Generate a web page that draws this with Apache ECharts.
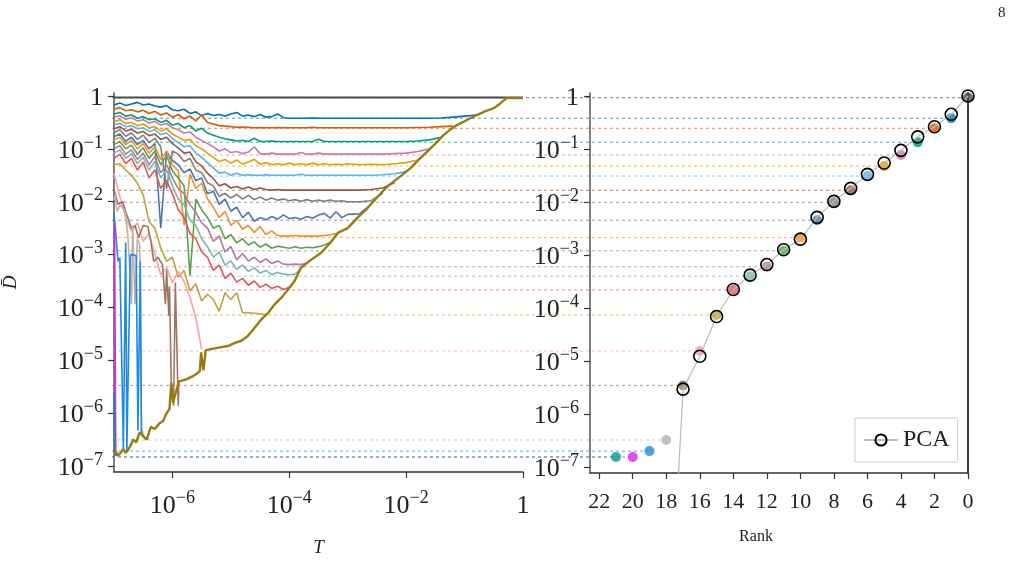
<!DOCTYPE html>
<html>
<head>
<meta charset="utf-8">
<script src="https://cdn.jsdelivr.net/npm/echarts@6/dist/echarts.min.js"></script>
<style>
  html, body { margin: 0; background: #fff; }
  #chart { width: 1015px; height: 562px; }
</style>
</head>
<body>
<div id="chart"></div>
<script>
// all values are log10; left panel x = log10 T, y = log10 D
const logT = [-7.0, -6.9, -6.8, -6.7, -6.6, -6.5, -6.4, -6.3, -6.2, -6.1,
  -6.0, -5.9, -5.8, -5.7, -5.6, -5.5, -5.4, -5.3, -5.2, -5.1,
  -5.0, -4.9, -4.8, -4.7, -4.6, -4.5, -4.4, -4.3, -4.2, -4.1,
  -4.0, -3.9, -3.8, -3.7, -3.6, -3.5, -3.4, -3.3, -3.2, -3.1,
  -3.0, -2.8, -2.6, -2.4, -2.2, -2.0, -1.8, -1.6, -1.4, -1.2,
  -1.0, -0.8, -0.6, -0.4, -0.2, 0];

// curves sampled on logT (they stop where they join the lower envelope)
const r00 = [-0.03, -0.03, -0.03, -0.03, -0.03, -0.03, -0.03, -0.03, -0.03, -0.03,
  -0.03, -0.03, -0.03, -0.03, -0.03, -0.03, -0.03, -0.03, -0.03, -0.03,
  -0.03, -0.03, -0.03, -0.03, -0.03, -0.03, -0.03, -0.03, -0.03, -0.03,
  -0.03, -0.03, -0.03, -0.03, -0.03, -0.03, -0.03, -0.03, -0.03, -0.03,
  -0.03, -0.03, -0.03, -0.03, -0.03, -0.03, -0.03, -0.03, -0.03, -0.03,
  -0.03, -0.03, -0.03, -0.03, -0.03, -0.03];
const r01 = [-0.17, -0.13, -0.18, -0.15, -0.12, -0.17, -0.15, -0.19, -0.21, -0.18,
  -0.26, -0.28, -0.25, -0.33, -0.30, -0.37, -0.33, -0.37, -0.35, -0.38,
  -0.34, -0.31, -0.38, -0.36, -0.39, -0.35, -0.40, -0.39, -0.34, -0.41,
  -0.42, -0.42, -0.42, -0.42, -0.415, -0.42, -0.42, -0.42, -0.42, -0.42,
  -0.42, -0.42, -0.42, -0.42, -0.42, -0.42, -0.42, -0.42, -0.415, -0.40,
  -0.38, -0.36];
const r02 = [-0.25, -0.22, -0.28, -0.26, -0.30, -0.27, -0.33, -0.29, -0.36, -0.32,
  -0.40, -0.35, -0.43, -0.38, -0.47, -0.36, -0.50, -0.53, -0.56, -0.57,
  -0.58, -0.59, -0.585, -0.59, -0.60, -0.595, -0.60, -0.60, -0.595, -0.60,
  -0.60, -0.60, -0.60, -0.60, -0.59, -0.60, -0.60, -0.60, -0.60, -0.60,
  -0.60, -0.60, -0.60, -0.60, -0.60, -0.60, -0.595, -0.59, -0.58, -0.57];
const r03 = [-0.34, -0.31, -0.38, -0.36, -0.42, -0.39, -0.45, -0.43, -0.50, -0.46,
  -0.55, -0.52, -0.60, -0.56, -0.66, -0.61, -0.70, -0.74, -0.78, -0.81,
  -0.83, -0.85, -0.84, -0.86, -0.80, -0.86, -0.86, -0.85, -0.86, -0.86,
  -0.86, -0.86, -0.86, -0.86, -0.86, -0.82, -0.86, -0.86, -0.86, -0.86,
  -0.86, -0.86, -0.86, -0.86, -0.86, -0.86, -0.85, -0.83, -0.78];
const r04 = [-0.40, -0.37, -0.44, -0.41, -0.47, -0.45, -0.51, -0.48, -0.55, -0.52,
  -0.60, -0.64, -0.70, -0.68, -0.78, -0.84, -0.90, -0.96, -1.04, -1.00,
  -1.07, -1.05, -1.09, -1.06, -0.96, -1.09, -1.10, -1.08, -1.10, -1.10,
  -1.10, -1.10, -1.07, -1.10, -1.10, -1.08, -1.10, -1.10, -1.10, -1.10,
  -1.10, -1.10, -1.10, -1.10, -1.09, -1.08, -1.05, -1.00];
const r05 = [-0.48, -0.45, -0.52, -0.50, -0.56, -0.53, -0.60, -0.58, -0.66, -0.62,
  -0.72, -0.78, -0.84, -0.82, -0.94, -1.00, -1.08, -1.16, -1.24, -1.20,
  -1.27, -1.21, -1.29, -1.25, -1.20, -1.29, -1.26, -1.30, -1.28, -1.30,
  -1.27, -1.30, -1.28, -1.30, -1.27, -1.30, -1.28, -1.30, -1.29, -1.30,
  -1.28, -1.30, -1.29, -1.30, -1.28, -1.26, -1.21];
const r06 = [-0.55, -0.52, -0.58, -0.56, -0.62, -0.60, -0.67, -0.64, -0.73, -0.70,
  -0.80, -0.88, -0.96, -0.94, -1.08, -1.16, -1.26, -1.36, -1.46, -1.44,
  -1.50, -1.46, -1.50, -1.49, -1.50, -1.50, -1.49, -1.50, -1.50, -1.50,
  -1.50, -1.50, -1.48, -1.50, -1.50, -1.50, -1.50, -1.50, -1.50, -1.50,
  -1.50, -1.50, -1.50, -1.49, -1.47, -1.43];
const r07 = [-0.62, -0.58, -0.66, -0.63, -0.70, -0.67, -0.75, -0.72, -0.82, -0.78,
  -0.90, -0.98, -1.08, -1.06, -1.24, -1.32, -1.46, -1.56, -1.70, -1.66,
  -1.74, -1.71, -1.76, -1.72, -1.77, -1.74, -1.77, -1.78, -1.77, -1.78,
  -1.78, -1.78, -1.78, -1.78, -1.78, -1.78, -1.78, -1.78, -1.78, -1.78,
  -1.78, -1.78, -1.77, -1.74, -1.64];
const r08 = [-0.69, -0.64, -0.76, -0.70, -0.82, -0.74, -0.88, -0.80, -0.96, -1.75,
  -1.04, -1.10, -1.24, -1.18, -1.40, -1.45, -1.64, -1.70, -1.90, -1.84,
  -1.93, -1.86, -1.95, -1.88, -1.96, -1.91, -1.97, -1.93, -1.97, -1.95,
  -1.98, -1.96, -1.99, -1.96, -1.99, -1.97, -1.99, -1.97, -1.99, -1.98,
  -2.00, -2.00, -1.98, -1.84];
const r09 = [-0.77, -0.72, -0.86, -0.78, -0.92, -0.84, -1.00, -0.90, -2.50, -1.05,
  -1.22, -1.30, -1.45, -1.38, -1.60, -1.55, -1.85, -1.80, -2.05, -1.95,
  -2.18, -2.10, -2.30, -2.20, -2.37, -2.30, -2.34, -2.28, -2.33, -2.25,
  -2.32, -2.30, -2.33, -2.28, -2.31, -2.25, -2.22, -2.31, -2.19, -2.30,
  -2.24, -2.23, -2.05];
const r10 = [-0.83, -0.78, -0.92, -0.84, -1.00, -0.90, -1.08, -0.96, -1.20, -1.04,
  -1.30, -1.42, -2.45, -1.48, -1.75, -1.65, -1.95, -2.10, -2.30, -2.18,
  -2.45, -2.35, -2.52, -2.45, -2.58, -2.47, -2.62, -2.55, -2.64, -2.65,
  -2.65, -2.64, -2.65, -2.65, -2.65, -2.65, -2.64, -2.63, -2.60];
const r11 = [-0.92, -0.86, -1.00, -0.93, -1.10, -0.98, -1.18, -1.04, -1.30, -1.12,
  -1.42, -1.55, -1.70, -3.40, -1.95, -2.15, -2.30, -2.50, -2.45, -2.70,
  -2.62, -2.78, -2.70, -2.82, -2.76, -2.86, -2.80, -2.88, -2.84, -2.86,
  -2.88, -2.85, -2.88, -2.86, -2.87, -2.85, -2.82, -2.77];
const r12 = [-1.00, -0.94, -1.10, -1.02, -1.20, -1.08, -1.30, -1.15, -1.45, -1.30,
  -1.55, -1.75, -1.85, -2.05, -2.20, -2.40, -2.50, -2.75, -2.65, -2.95,
  -2.85, -3.10, -2.98, -3.12, -3.05, -3.15, -3.08, -3.17, -3.12, -3.18,
  -3.19, -3.18, -3.19, -3.16];
const r13 = [-1.08, -1.02, -1.18, -1.09, -1.28, -1.16, -1.40, -1.24, -1.55, -1.40,
  -1.70, -1.95, -2.05, -2.35, -2.45, -2.70, -2.85, -3.05, -2.95, -3.20,
  -3.12, -3.28, -3.20, -3.32, -3.25, -3.35, -3.30, -3.38, -3.34, -3.37,
  -3.38, -3.37, -3.27];
const r14 = [-1.18, -1.10, -1.28, -1.18, -1.40, -1.25, -1.55, -1.40, -1.75, -1.60,
  -1.85, -2.15, -2.30, -2.60, -2.70, -2.95, -3.05, -3.30, -3.20, -3.45,
  -3.35, -3.52, -3.45, -3.58, -3.50, -3.62, -3.56, -3.64, -3.60, -3.66,
  -3.62];
const r15 = [-1.30, -1.28, -1.40, -1.50, -1.65, -1.87, -2.38, -2.50, -2.87, -3.13,
  -3.05, -3.43, -3.30, -3.69, -3.55, -3.88, -3.75, -3.85, -4.07, -3.72,
  -3.85, -3.72, -4.10, -4.10, -4.11, -4.12, -4.14];
const r16 = [-1.46, -1.90, -2.30, -2.55, -2.40, -2.75, -2.60, -3.00, -3.38, -3.25,
  -3.53, -3.32, -3.51, -3.81, -4.19, -4.79];

// spiky curves, [log10 T, log10 D]
const r17 = [[-7.0, -1.77], [-6.93, -2.05], [-6.85, -2.0], [-6.8, -2.19], [-6.7, -2.5],
  [-6.64, -2.45], [-6.58, -2.68], [-6.5, -2.45], [-6.42, -2.47], [-6.37, -2.75],
  [-6.32, -3.13], [-6.25, -3.05], [-6.17, -3.19], [-6.12, -3.94], [-6.1, -3.3],
  [-6.06, -4.16], [-6.05, -3.6], [-6.02, -5.42], [-5.98, -5.86], [-5.95, -3.53],
  [-5.9, -5.86], [-5.89, -5.39]];
const r18 = [[-7.0, -1.96], [-6.98, -1.87], [-6.95, -2.18], [-6.89, -2.06], [-6.81, -2.19],
  [-6.76, -2.68], [-6.7, -3.94], [-6.68, -2.45], [-6.64, -3.94], [-6.6, -2.7],
  [-6.56, -2.81], [-6.53, -6.3], [-6.48, -6.46]];
const r19 = [[-7.0, -2.2], [-6.98, -2.22], [-6.93, -3.13], [-6.9, -3.06], [-6.84, -6.68],
  [-6.8, -2.77], [-6.78, -6.71], [-6.72, -3.0], [-6.62, -3.02], [-6.59, -6.33],
  [-6.55, -3.13], [-6.53, -6.4], [-6.48, -6.45]];
const r20 = [[-7.0, -2.45], [-6.99, -2.52], [-6.97, -6.8], [-6.92, -6.8]];
const r21 = [[-7.0, -5.6], [-6.99, -6.72], [-6.95, -6.8]];

const envelope = [[-7.0, -6.68], [-6.97, -6.68], [-6.93, -6.8], [-6.88, -6.74], [-6.84, -6.68],
  [-6.8, -6.75], [-6.76, -6.7], [-6.72, -6.62], [-6.67, -6.5], [-6.62, -6.55],
  [-6.56, -6.36], [-6.5, -6.44], [-6.44, -6.5], [-6.37, -6.26], [-6.3, -6.3],
  [-6.22, -6.19], [-6.16, -6.15], [-6.11, -6.02], [-6.05, -5.92], [-6.02, -5.42],
  [-5.99, -5.8], [-5.96, -5.83], [-5.89, -5.4], [-5.76, -5.36], [-5.65, -5.3],
  [-5.59, -5.26], [-5.53, -5.2], [-5.51, -4.85], [-5.47, -5.19], [-5.43, -4.81],
  [-5.3, -4.78], [-5.16, -4.75], [-5.05, -4.73], [-4.93, -4.67], [-4.82, -4.63],
  [-4.71, -4.54], [-4.59, -4.38], [-4.48, -4.23], [-4.36, -4.1], [-4.25, -3.94],
  [-4.14, -3.82], [-4.02, -3.66], [-3.91, -3.5], [-3.8, -3.25], [-3.63, -3.1],
  [-3.46, -2.97], [-3.3, -2.78], [-3.17, -2.59], [-3.0, -2.5], [-2.83, -2.3],
  [-2.66, -2.12], [-2.5, -1.92], [-2.32, -1.71], [-2.1, -1.52], [-1.92, -1.36],
  [-1.78, -1.2], [-1.64, -1.05], [-1.5, -0.9], [-1.36, -0.74], [-1.25, -0.64],
  [-1.13, -0.55], [-0.95, -0.45], [-0.79, -0.36], [-0.65, -0.29], [-0.5, -0.23],
  [-0.4, -0.15], [-0.28, -0.04], [0, -0.04]];

// right panel: final level of each curve by rank, and PCA
const ranks = [0, 1, 2, 3, 4, 5, 6, 7, 8, 9, 10, 11, 12, 13, 14, 15, 16, 17, 18, 19, 20, 21];
const finalLevel = [-0.03, -0.42, -0.61, -0.874, -1.113, -1.32, -1.51, -1.78, -2.006, -2.345,
  -2.67, -2.92, -3.22, -3.40, -3.66, -4.13, -4.81, -5.46, -6.49, -6.70, -6.81, -6.81];
const pcaRank = [0, 1, 2, 3, 4, 5, 6, 7, 8, 9, 10, 11, 12, 13, 14, 15, 16, 17, 18];
const pcaLevel = [0, -0.345, -0.58, -0.77, -1.025, -1.264, -1.478, -1.742, -1.987, -2.29,
  -2.70, -2.90, -3.18, -3.38, -3.65, -4.16, -4.91, -5.53, -11.5];

const yTicks = [-7, -6, -5, -4, -3, -2, -1, 0];
const tTicks = [-6, -4, -2, 0];
const rankTicks = [0, 2, 4, 6, 8, 10, 12, 14, 16, 18, 20, 22];

const palette = ['#4a4a4a', '#0072B2', '#D55E00', '#009E73', '#CC79A7', '#E69F00', '#56B4E9',
  '#8C5A48', '#7F7F7F', '#4E79A7', '#F28E2B', '#59A14F', '#B07AA1', '#76B7B2', '#E15759',
  '#BFA13A', '#FF9DA7', '#9C755F', '#BAB0AC', '#1E88E5', '#E41FE8', '#009E86'];

const SERIF = 'Liberation Serif';
const Y_MIN = -7.113, Y_MAX = 0.057;
const RANK_MAX = 22.55;
const SPAN_MAX = 51.04; // rank units from right spine back to the left panel's y axis

const gridCurves = [r00, r01, r02, r03, r04, r05, r06, r07, r08, r09, r10, r11, r12, r13, r14, r15, r16];
const curves = gridCurves.map(arr => arr.map((v, i) => [logT[i], v]))
  .concat([r17, r18, r19, r20, r21]);

function powLabel(v) {
  if (v === 0) return '{b|1}';
  return '{b|10}{s|−' + Math.abs(v) + '}';
}
const richPow = {
  b: { fontFamily: SERIF, fontSize: 26, color: '#222', lineHeight: 30, verticalAlign: 'bottom' },
  s: { fontFamily: SERIF, fontSize: 18, color: '#222', lineHeight: 30, verticalAlign: 'top' }
};

function logYAxis(gridIndex, showLabels) {
  return {
    type: 'value', gridIndex: gridIndex, min: Y_MIN, max: Y_MAX,
    axisLine: { show: true, onZero: false, lineStyle: { color: '#555', width: 1.5 } },
    axisTick: { show: true, length: 6, customValues: yTicks, lineStyle: { color: '#333', width: 1.2 } },
    axisLabel: {
      show: showLabels, customValues: yTicks, margin: 11,
      formatter: powLabel, rich: richPow
    },
    splitLine: { show: false }
  };
}

const chart = echarts.init(document.getElementById('chart'));

const series = [];

// dashed guide lines from the left axis to the rank markers
finalLevel.forEach((v, r) => {
  series.push({
    type: 'line', xAxisIndex: 2, yAxisIndex: 3, z: 1,
    data: [[SPAN_MAX, v], [ranks[r], v]],
    symbol: 'none', silent: true,
    lineStyle: { color: palette[r], width: 1.2, type: [3, 3], opacity: 0.6 }
  });
});

curves.forEach((d, k) => {
  series.push({
    type: 'line', xAxisIndex: 0, yAxisIndex: 0, z: 2,
    data: d, symbol: 'none',
    lineStyle: { color: palette[k], width: k === 0 ? 2 : 1.6 }
  });
});

series.push({
  type: 'line', xAxisIndex: 0, yAxisIndex: 0, z: 3,
  data: envelope, symbol: 'none',
  lineStyle: { color: '#9A7B12', width: 2.4 }
});

series.push({
  type: 'scatter', xAxisIndex: 1, yAxisIndex: 1, z: 3,
  symbolSize: 10,
  data: finalLevel.map((v, r) => ({ value: [ranks[r], v], itemStyle: { color: palette[r] } }))
});

series.push({
  name: 'PCA', type: 'line', xAxisIndex: 1, yAxisIndex: 1, z: 4,
  data: pcaLevel.map((v, i) => [pcaRank[i], v]),
  symbol: 'circle', symbolSize: 12, showAllSymbol: true,
  lineStyle: { color: '#bbbbbb', width: 1.2 },
  itemStyle: { color: 'rgba(0,0,0,0)', borderColor: '#000', borderWidth: 1.6 }
});

chart.setOption({
  animation: false,
  backgroundColor: '#fff',
  grid: [
    { left: 112, top: 93, width: 411, height: 380 },
    { left: 590, top: 93, width: 378, height: 380 },
    { left: 112, top: 93, width: 856, height: 380 }
  ],
  xAxis: [
    {
      type: 'value', gridIndex: 0, min: -7, max: 0,
      name: 'T', nameLocation: 'middle', nameGap: 66,
      nameTextStyle: { fontFamily: SERIF, fontStyle: 'italic', fontSize: 19, color: '#222' },
      axisLine: { show: true, onZero: false, lineStyle: { color: '#333', width: 1.5 } },
      axisTick: { show: true, length: 6, customValues: tTicks, lineStyle: { color: '#333', width: 1.2 } },
      axisLabel: { customValues: tTicks, margin: 17, formatter: powLabel, rich: richPow },
      splitLine: { show: false }
    },
    {
      type: 'value', gridIndex: 1, min: 0, max: RANK_MAX, inverse: true,
      name: 'Rank', nameLocation: 'middle', nameGap: 56,
      nameTextStyle: { fontFamily: SERIF, fontSize: 16, color: '#222', padding: [0, 46, 0, 0] },
      axisLine: { show: true, onZero: false, lineStyle: { color: '#333', width: 1.5 } },
      axisTick: { show: true, length: 6, customValues: rankTicks, lineStyle: { color: '#333', width: 1.2 } },
      axisLabel: { customValues: rankTicks, margin: 18, fontFamily: SERIF, fontSize: 22, color: '#222' },
      splitLine: { show: false }
    },
    {
      type: 'value', gridIndex: 2, min: 0, max: SPAN_MAX, inverse: true, show: false
    }
  ],
  yAxis: [
    Object.assign(logYAxis(0, true), {
      name: 'D̄', nameLocation: 'middle', nameGap: 78,
      nameTextStyle: { fontFamily: SERIF, fontStyle: 'italic', fontSize: 19, color: '#222', padding: [0, 0, 16, 0] }
    }),
    logYAxis(1, true),
    {
      type: 'value', gridIndex: 1, min: Y_MIN, max: Y_MAX, position: 'right',
      axisLine: { show: true, onZero: false, lineStyle: { color: '#3a4352', width: 2 } },
      axisTick: { show: false }, axisLabel: { show: false }, splitLine: { show: false }
    },
    { type: 'value', gridIndex: 2, min: Y_MIN, max: Y_MAX, show: false }
  ],
  legend: {
    data: ['PCA'], left: 855, top: 418,
    padding: [10, 8], itemWidth: 34, itemHeight: 14,
    borderColor: '#cccccc', borderWidth: 1, backgroundColor: '#fff',
    textStyle: { fontFamily: SERIF, fontSize: 24, color: '#222' }
  },
  graphic: [
    { type: 'text', left: 998, top: 6, style: { text: '8', fontFamily: SERIF, fontSize: 15, fill: '#222' } }
  ],
  series: series
});
</script>
</body>
</html>
